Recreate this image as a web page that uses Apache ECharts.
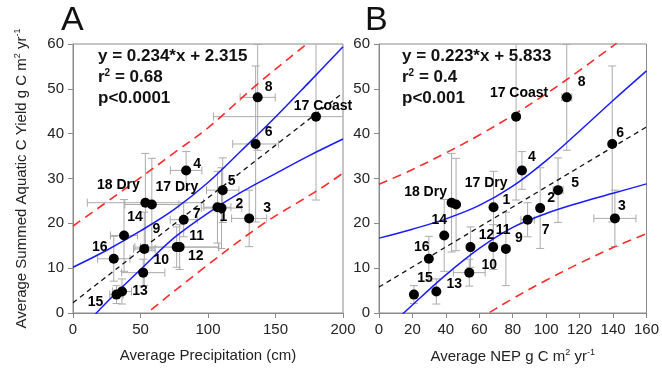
<!DOCTYPE html>
<html>
<head>
<meta charset="utf-8">
<script src="https://cdn.jsdelivr.net/npm/echarts@6/dist/echarts.min.js"></script>
<style>
  html, body { margin: 0; padding: 0; background: #fff; }
  #chart { width: 662px; height: 373px; }
</style>
</head>
<body>
<div id="chart"></div>
<script>
// sites and values
const siteNames = ["1", "2", "3", "4", "5", "6", "7", "8", "9", "10", "11", "12", "13", "14", "15", "16", "17 Coast", "17 Dry", "18 Dry"];
const yieldVals = [23.6, 23.4, 21.1, 31.8, 27.4, 37.7, 20.8, 48.1, 14.3, 9.0, 14.7, 14.7, 4.8, 17.3, 4.1, 12.1, 43.8, 24.2, 24.6];
const yieldErr = [8, 9, 6.3, 4.2, 7.2, 17.4, 3.8, 11.8, 8.2, 3, 5, 4.5, 2.8, 8, 2, 5, 18.6, 10.3, 11];
const precipVals = [107, 110, 130.5, 83.8, 110.9, 135.3, 82, 136.8, 52.8, 52, 79, 76.8, 36.3, 37.8, 32.2, 30.2, 180, 58.4, 53.6];
const precipErr = [10, 15, 13, 11.7, 12, 17, 10, 13, 8, 16, 29, 31, 7, 10, 5, 12, 76, 20, 43];
const nepVals = [68.5, 96.4, 141.1, 85.5, 107.1, 139.5, 88.9, 112.3, 75.9, 54, 68.3, 54.7, 34.3, 39, 20.9, 29.8, 82, 46.1, 43.4];
const nepErr = [0, 0, 12.6, 2, 3, 0, 4, 3, 0, 9.5, 0, 0, 0, 0, 0, 0, 0, 0, 0];

// regression line, 95% confidence (blue) and prediction (red) bands, panel A
const fitA = [[0, 2.3], [200, 49.1]];
const ciUpA = [[0, 10.2], [25, 14.0], [50, 18.3], [75, 23.1], [100, 29.1], [125, 36.3], [150, 43.7], [175, 51.5], [200, 59.4]];
const ciLoA = [[0, -5.6], [25, 2.4], [50, 9.7], [75, 16.8], [100, 22.3], [125, 27.0], [150, 31.1], [175, 35.1], [200, 38.8]];
const piUpA = [[0, 19.4], [40, 28.0], [78, 36.4], [100, 41.3], [136, 50.9], [173, 60], [200, 67]];
const piLoA = [[0, -15], [30, -6.5], [55, 0], [95, 9.6], [140, 19.7], [182, 27.5], [200, 31.2]];

// panel B
const fitB = [[0, 5.8], [160, 41.5]];
const ciUpB = [[0, 16.7], [20, 18.7], [40, 21.0], [60, 24.0], [80, 28.3], [100, 34.0], [120, 40.6], [140, 47.4], [160, 54.0]];
const ciLoB = [[0, -5.1], [20, 1.8], [40, 8.5], [60, 14.4], [80, 19.1], [100, 22.2], [120, 24.6], [140, 26.7], [160, 28.8]];
const piUpB = [[0, 28.7], [20, 32.0], [40, 35.7], [60, 39.7], [80, 44.1], [100, 48.9], [120, 54.1], [140, 59.6], [160, 65.3]];
const piLoB = [[0, -17.1], [20, -11.4], [40, -6.2], [60, -1.3], [80, 3.2], [100, 7.3], [120, 11.1], [140, 14.6], [160, 17.7]];

// label offsets (px from point centre)
const labelOffA = {
  "1": [6, 10], "2": [18, -4], "3": [18, -10], "4": [11, -6], "5": [9, -9], "6": [13, -12],
  "7": [13, -6], "8": [11, -10], "9": [12, -20], "10": [18, -13], "11": [17, -11], "12": [19, 9],
  "13": [18, 0], "14": [11, -18], "15": [-21, 8], "16": [-14, -12], "17 Coast": [7, -10],
  "17 Dry": [25, -17], "18 Dry": [-27, -18]
};
const labelOffB = {
  "1": [13, -7], "2": [11, -10], "3": [7, -12], "4": [10, -13], "5": [17, -7], "6": [8, -11],
  "7": [18, 10], "8": [15, -15], "9": [13, -11], "10": [20, -8], "11": [10, -17], "12": [16, -12],
  "13": [18, -7], "14": [-5, -15], "15": [11, -16], "16": [-7, -12], "17 Coast": [3, -23],
  "17 Dry": [30, -21], "18 Dry": [-26, -11]
};

const FONT = "Liberation Sans, Arial, sans-serif";
const errColor = "#ababab";

function errorItem(params, api) {
  const x = api.value(0), y = api.value(1), ex = api.value(2), ey = api.value(3);
  const cap = 4;
  const style = { stroke: errColor, lineWidth: 1, fill: null };
  const kids = [];
  if (ex > 0) {
    const l = api.coord([x - ex, y]), r = api.coord([x + ex, y]);
    kids.push({ type: "line", shape: { x1: l[0], y1: l[1], x2: r[0], y2: r[1] }, style });
    kids.push({ type: "line", shape: { x1: l[0], y1: l[1] - cap, x2: l[0], y2: l[1] + cap }, style });
    kids.push({ type: "line", shape: { x1: r[0], y1: r[1] - cap, x2: r[0], y2: r[1] + cap }, style });
  }
  if (ey > 0) {
    const t = api.coord([x, y + ey]), b = api.coord([x, y - ey]);
    kids.push({ type: "line", shape: { x1: t[0], y1: t[1], x2: b[0], y2: b[1] }, style });
    kids.push({ type: "line", shape: { x1: t[0] - cap, y1: t[1], x2: t[0] + cap, y2: t[1] }, style });
    kids.push({ type: "line", shape: { x1: b[0] - cap, y1: b[1], x2: b[0] + cap, y2: b[1] }, style });
  }
  return { type: "group", children: kids };
}

function panelSeries(idx, xs, xErr, fit, ciUp, ciLo, piUp, piLo, offs) {
  const errData = siteNames.map((n, i) => [xs[i], yieldVals[i], xErr[i], yieldErr[i]]);
  const pts = siteNames.map((n, i) => ({
    name: n,
    value: [xs[i], yieldVals[i]],
    label: { offset: offs[n] }
  }));
  const band = (data, color, type, width) => ({
    type: "line", xAxisIndex: idx, yAxisIndex: idx, data, smooth: 0.35,
    symbol: "none", silent: true, clip: true, z: 3,
    lineStyle: { color, width, type }
  });
  return [
    { type: "custom", xAxisIndex: idx, yAxisIndex: idx, data: errData, renderItem: errorItem, clip: true, silent: true, z: 1 },
    band(piUp, "#ff2a2a", [9, 6], 1.6),
    band(piLo, "#ff2a2a", [9, 6], 1.6),
    band(ciUp, "#1a1aff", "solid", 1.5),
    band(ciLo, "#1a1aff", "solid", 1.5),
    band(fit, "#111", [5, 4], 1.3),
    {
      type: "scatter", xAxisIndex: idx, yAxisIndex: idx, data: pts, symbolSize: 10, z: 5,
      itemStyle: { color: "#000", opacity: 1 },
      label: {
        show: true, position: "inside", formatter: "{b}", opacity: 1,
        color: "#000", textBorderWidth: 0, textBorderColor: "transparent",
        fontFamily: FONT, fontWeight: "bold", fontSize: 14
      }
    }
  ];
}

const axisCommon = {
  axisLine: { show: true, onZero: false, lineStyle: { color: "#8a8a8a" } },
  axisTick: { show: true, length: 5, lineStyle: { color: "#8a8a8a" } },
  splitLine: { show: false },
  axisLabel: { color: "#222", fontFamily: FONT, fontSize: 15, margin: 9 }
};

const supRich = {
  sup: { fontSize: 9, fontFamily: FONT, color: "#222", padding: [0, 0, 9, 0] }
};

const chart = echarts.init(document.getElementById("chart"), null, { renderer: "canvas" });
chart.setOption({
  animation: false,
  backgroundColor: "#fff",
  grid: [
    { left: 73, top: 44, width: 270, height: 269, show: true, borderColor: "#8a8a8a", borderWidth: 1 },
    { left: 379, top: 44, width: 269, height: 269, show: true, borderColor: "#8a8a8a", borderWidth: 1 }
  ],
  xAxis: [
    Object.assign({}, axisCommon, {
      gridIndex: 0, type: "value", min: 0, max: 200, interval: 50,
      name: "Average Precipitation (cm)", nameLocation: "middle", nameGap: 35,
      nameTextStyle: { color: "#222", fontFamily: FONT, fontSize: 15 }
    }),
    Object.assign({}, axisCommon, {
      gridIndex: 1, type: "value", min: 0, max: 160, interval: 20,
      name: "Average NEP g C m{sup|2} yr{sup|-1}", nameLocation: "middle", nameGap: 35,
      nameTextStyle: { color: "#222", fontFamily: FONT, fontSize: 15, rich: supRich }
    })
  ],
  yAxis: [
    Object.assign({}, axisCommon, {
      gridIndex: 0, type: "value", min: 0, max: 60, interval: 10,
      name: "Average Summed Aquatic C Yield g C m{sup|2} yr{sup|-1}", nameLocation: "middle", nameGap: 42,
      nameTextStyle: { color: "#222", fontFamily: FONT, fontSize: 15, rich: supRich }
    }),
    Object.assign({}, axisCommon, {
      gridIndex: 1, type: "value", min: 0, max: 60, interval: 10
    })
  ],
  graphic: [
    { type: "text", left: 61, top: 4, style: { text: "A", font: "34px " + FONT, fill: "#111" } },
    { type: "text", left: 365, top: 4, style: { text: "B", font: "34px " + FONT, fill: "#111" } },
    {
      type: "text", left: 98, top: 46, z: 10,
      style: {
        text: "y = 0.234*x + 2.315\nr{s|2} = 0.68\np<0.0001",
        font: "bold 17px " + FONT, fill: "#111", lineHeight: 21,
        rich: { s: { font: "bold 10px " + FONT, fill: "#111", padding: [0, 0, 9, 0] } }
      }
    },
    {
      type: "text", left: 402, top: 46, z: 10,
      style: {
        text: "y = 0.223*x + 5.833\nr{s|2} = 0.4\np<0.001",
        font: "bold 17px " + FONT, fill: "#111", lineHeight: 21,
        rich: { s: { font: "bold 10px " + FONT, fill: "#111", padding: [0, 0, 9, 0] } }
      }
    }
  ],
  series: [].concat(
    panelSeries(0, precipVals, precipErr, fitA, ciUpA, ciLoA, piUpA, piLoA, labelOffA),
    panelSeries(1, nepVals, nepErr, fitB, ciUpB, ciLoB, piUpB, piLoB, labelOffB)
  )
});
</script>
</body>
</html>
